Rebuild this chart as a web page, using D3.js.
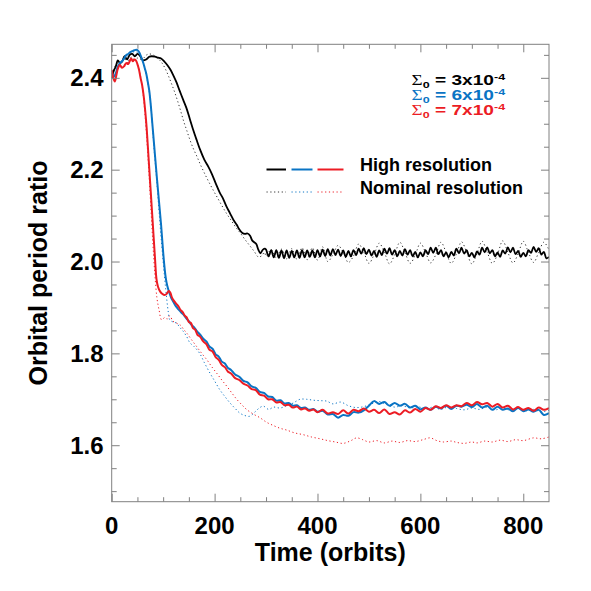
<!DOCTYPE html>
<html>
<head>
<meta charset="utf-8">
<script src="https://cdn.jsdelivr.net/npm/d3@7"></script>
<style>
  body { margin: 0; background: #fff; }
  text { font-family: "Liberation Sans", Arial, Helvetica, sans-serif; font-weight: bold; }
</style>
</head>
<body>
<div id="chart"></div>
<script>
  // tick values
  const xMajor = [0, 200, 400, 600, 800];
  const xMinor = [50, 100, 150, 250, 300, 350, 450, 500, 550, 650, 700, 750];
  const yMajor = [1.6, 1.8, 2.0, 2.2, 2.4];
  const yMinor = [1.5, 1.55, 1.65, 1.7, 1.75, 1.85, 1.9, 1.95, 2.05, 2.1, 2.15, 2.25, 2.3, 2.35, 2.45];

  // Sigma_0 = 3e-4, high resolution
  const blackHi = [
    [0,2.40],[4,2.415],[8,2.425],[12,2.438],[16,2.432],[20,2.435],[25,2.447],[30,2.44],[35,2.45],[40,2.452],
    [45,2.447],[50,2.452],[55,2.448],[61,2.438],[67,2.44],[73,2.446],[78,2.447],[84,2.446],[90,2.444],[96,2.442],
    [102,2.436],[108,2.428],[114,2.418],[120,2.405],[126,2.39],[132,2.372],[139,2.352],[145,2.335],[152,2.31],[158,2.288],
    [165,2.265],[172,2.243],[180,2.222],[188,2.206],[195,2.19],[203,2.168],[210,2.15],[216,2.138],[223,2.12],[230,2.105],
    [237,2.09],[243,2.08],[248,2.07],[254,2.062],[259,2.06],[264,2.061],[269,2.056],[273,2.046],[277,2.042],[281,2.038],
    [285,2.026],[289,2.018],[294,2.026],[298,2.028],
    [300,2.026],[305,2.011],[310,2.025],[315,2.009],[320,2.025],[325,2.008],[330,2.024],[335,2.007],[340,2.024],[345,2.008],
    [350,2.023],[355,2.009],[360,2.024],[365,2.008],[370,2.025],[375,2.009],[380,2.024],[385,2.010],[390,2.024],[395,2.009],
    [400,2.025],[405,2.011],[410,2.026],[415,2.012],[420,2.027],[425,2.013],[430,2.027],[435,2.014],[440,2.026],[445,2.012],
    [450,2.024],[455,2.010],[460,2.023],[465,2.011],[470,2.025],[475,2.014],[480,2.028],[485,2.017],[490,2.029],[495,2.016],
    [500,2.026],[505,2.013],[510,2.023],[515,2.010],[520,2.024],[525,2.014],[530,2.028],[535,2.017],[540,2.029],[545,2.015],
    [550,2.025],[555,2.011],[560,2.023],[565,2.013],[570,2.027],[575,2.015],[580,2.025],[585,2.011],[590,2.021],[595,2.009],
    [600,2.020],[605,2.011],[610,2.025],[615,2.016],[620,2.030],[625,2.019],[630,2.030],[635,2.016],[640,2.025],[645,2.011],
    [650,2.020],[655,2.009],[660,2.021],[665,2.013],[670,2.028],[675,2.018],[680,2.030],[685,2.017],[690,2.025],[695,2.011],
    [700,2.019],[705,2.009],[710,2.022],[715,2.015],[720,2.030],[725,2.020],[730,2.031],[735,2.018],[740,2.025],[745,2.011],
    [750,2.020],[755,2.010],[760,2.024],[765,2.017],[770,2.031],[775,2.020],[780,2.030],[785,2.016],[790,2.023],[795,2.010],
    [800,2.019],[805,2.011],[810,2.025],[815,2.019],[820,2.032],[825,2.021],[830,2.029],[835,2.015],[840,2.021],[845,2.007],
    [850,2.010]
  ];

  // Sigma_0 = 3e-4, nominal resolution
  const blackNom = [
    [0,2.40],[5,2.42],[10,2.432],[15,2.428],[20,2.436],[26,2.44],[32,2.437],[38,2.445],[44,2.44],[50,2.443],
    [56,2.44],[62,2.443],[68,2.45],[74,2.452],[80,2.45],[86,2.446],[92,2.44],[98,2.432],[104,2.42],[110,2.405],
    [116,2.388],[122,2.37],[128,2.35],[134,2.328],[140,2.305],[146,2.285],[152,2.265],[159,2.245],[166,2.228],[172,2.212],
    [180,2.193],[188,2.175],[197,2.156],[205,2.14],[214,2.122],[223,2.105],[232,2.09],[241,2.075],[250,2.062],[259,2.048],
    [268,2.035],[277,2.022],[285,2.01],[291,2.012],[297,2.02],
    [300,2.012],[310,2.026],[320,2.008],[330,2.027],[340,2.006],[350,2.028],[360,2.005],[370,2.03],[380,2.004],[390,2.03],
    [400,2.003],[410,2.032],[420,2.0],[430,2.015],[440,2.035],[450,2.02],[460,1.998],[470,2.012],[480,2.038],[490,2.02],
    [500,1.996],[510,2.015],[520,2.04],[530,2.02],[540,1.995],[550,2.015],[560,2.042],[570,2.02],[580,1.996],[590,2.014],
    [600,2.04],[610,2.02],[620,1.997],[630,2.015],[640,2.042],[650,2.02],[660,1.996],[670,2.016],[680,2.043],[690,2.02],
    [700,1.995],[710,2.017],[720,2.044],[730,2.02],[740,1.996],[750,2.016],[760,2.045],[770,2.02],[780,1.997],[790,2.017],
    [800,2.044],[810,2.02],[820,1.998],[830,2.02],[840,2.042],[850,2.025]
  ];

  // Sigma_0 = 6e-4, high resolution
  const blueHi = [
    [0,2.415],[4,2.402],[8,2.41],[12,2.425],[16,2.432],[20,2.436],[24,2.442],[28,2.449],[32,2.452],[36,2.456],
    [40,2.458],[44,2.46],[48,2.461],[52,2.458],[55,2.452],[58,2.443],[61,2.434],[64,2.422],[67,2.41],[70,2.392],
    [73,2.372],[76,2.34],[79,2.30],[82,2.26],[85,2.22],[88,2.18],[92,2.13],[96,2.08],[99,2.035],[102,1.995],
    [105,1.965],[108,1.947],[112,1.932],[116,1.92],[120,1.912],[124,1.904],[128,1.898],[132,1.893],[136,1.888],[140,1.884],
    [145,1.876],[150,1.87],[155,1.862],[160,1.857],[166,1.848],[172,1.841],[178,1.832],[184,1.826],[190,1.815],[196,1.81],
    [202,1.798],[208,1.793],[214,1.782],[220,1.778],[226,1.768],[232,1.764],[240,1.754],[248,1.749],[256,1.74],[264,1.737],
    [272,1.728],[280,1.725],[288,1.716],[296,1.714],[304,1.706],[312,1.705],[320,1.697],[328,1.698],[336,1.691],[344,1.692],
    [352,1.686],[360,1.687],[368,1.681],[376,1.682],[384,1.677],[392,1.679],[400,1.673],
    [410,1.675],[420,1.667],[430,1.668],[440,1.66],[450,1.666],[460,1.664],[470,1.672],[480,1.671],[490,1.676],[500,1.686],
    [510,1.696],[520,1.69],[530,1.694],[540,1.686],[550,1.692],[560,1.686],[570,1.69],[580,1.682],[590,1.686],[600,1.678],
    [610,1.682],[620,1.677],[630,1.684],[640,1.68],[650,1.686],[660,1.679],[670,1.686],[680,1.684],[690,1.688],[700,1.683],
    [710,1.69],[720,1.682],[730,1.686],[740,1.677],[750,1.684],[760,1.677],[770,1.68],[780,1.674],[790,1.681],[800,1.674],
    [810,1.678],[820,1.673],[830,1.677],[840,1.666],[850,1.67]
  ];

  // Sigma_0 = 6e-4, nominal resolution
  const blueNom = [
    [0,2.41],[6,2.405],[12,2.422],[20,2.434],[28,2.445],[36,2.452],[44,2.457],[50,2.455],[58,2.44],[64,2.42],
    [70,2.39],[76,2.34],[82,2.25],[88,2.17],[94,2.08],[100,2.0],[105,1.94],[110,1.89],[113,1.873],[120,1.868],
    [126,1.866],[132,1.857],[139,1.848],[146,1.836],[152,1.823],[160,1.815],[171,1.80],[180,1.78],[191,1.757],[200,1.74],
    [210,1.721],[220,1.706],[230,1.692],[240,1.68],[249,1.67],[258,1.665],[268,1.663],[278,1.672],[288,1.682],[295,1.685],
    [305,1.678],[315,1.683],[327,1.681],[340,1.686],[353,1.692],[366,1.70],[379,1.70],[392,1.698],[405,1.697],[418,1.696],
    [430,1.69],[445,1.694],[460,1.686],[475,1.682],[490,1.684],[505,1.69],[520,1.695],[535,1.688],[550,1.683],[565,1.686],
    [580,1.681],[595,1.684],[610,1.679],[625,1.683],[640,1.678],[655,1.684],[670,1.68],[685,1.677],[700,1.681],[715,1.678],
    [730,1.683],[745,1.677],[760,1.681],[775,1.676],[790,1.68],[805,1.675],[820,1.678],[835,1.673],[850,1.676]
  ];

  // Sigma_0 = 7e-4, high resolution
  const redHi = [
    [0,2.417],[3,2.40],[6,2.392],[9,2.405],[12,2.42],[16,2.428],[20,2.422],[24,2.425],[28,2.432],[32,2.43],
    [35,2.436],[38,2.442],[41,2.436],[44,2.44],[47,2.438],[50,2.43],[53,2.418],[56,2.40],[59,2.385],[62,2.362],
    [65,2.33],[68,2.29],[72,2.22],[76,2.15],[80,2.08],[84,2.01],[87,1.962],[90,1.945],[94,1.935],[98,1.93],
    [103,1.927],[107,1.93],[111,1.936],[114,1.932],[117,1.922],[120,1.916],[124,1.91],[127,1.906],[130,1.902],[134,1.894],
    [138,1.89],[142,1.882],[146,1.878],[150,1.868],[154,1.866],[158,1.855],[162,1.852],[167,1.84],[172,1.836],[178,1.826],
    [184,1.82],[190,1.808],[196,1.804],[202,1.792],[208,1.786],[214,1.775],[220,1.77],[226,1.76],[232,1.756],[240,1.746],
    [248,1.742],[256,1.734],[264,1.73],[272,1.722],[280,1.72],[288,1.71],[296,1.708],[304,1.70],[312,1.70],[320,1.693],
    [328,1.694],[336,1.687],[344,1.688],[352,1.682],[360,1.684],[368,1.678],[376,1.68],[384,1.675],[392,1.678],[400,1.672],
    [410,1.677],[420,1.669],[430,1.672],[440,1.668],[450,1.676],[460,1.669],[470,1.677],[480,1.674],[490,1.68],[500,1.673],
    [510,1.677],[520,1.67],[530,1.678],[540,1.668],[550,1.672],[560,1.667],[570,1.676],[580,1.671],[590,1.679],[600,1.673],
    [610,1.681],[620,1.677],[630,1.685],[640,1.681],[650,1.687],[660,1.682],[670,1.687],[680,1.685],[690,1.692],[700,1.687],
    [710,1.694],[720,1.689],[730,1.692],[740,1.684],[750,1.69],[760,1.682],[770,1.686],[780,1.678],[790,1.683],[800,1.677],
    [810,1.681],[820,1.675],[830,1.682],[840,1.677],[850,1.681]
  ];

  // Sigma_0 = 7e-4, nominal resolution
  const redNom = [
    [0,2.41],[6,2.395],[12,2.42],[20,2.425],[28,2.43],[36,2.44],[44,2.438],[50,2.43],[55,2.41],[60,2.375],
    [64,2.33],[68,2.27],[72,2.2],[76,2.12],[80,2.04],[84,1.97],[88,1.92],[92,1.895],[97,1.873],[103,1.878],
    [108,1.875],[113,1.882],[119,1.87],[126,1.866],[133,1.862],[140,1.852],[146,1.844],[155,1.83],[165,1.815],[175,1.80],
    [185,1.786],[195,1.77],[204,1.757],[214,1.742],[224,1.728],[234,1.713],[243,1.70],[253,1.688],[262,1.678],[275,1.668],
    [288,1.66],[301,1.65],[314,1.643],[327,1.637],[340,1.633],[355,1.627],[372,1.623],[388,1.618],[405,1.614],[420,1.61],
    [435,1.607],[450,1.604],[465,1.61],[476,1.616],[488,1.612],[500,1.607],[515,1.61],[530,1.605],[545,1.609],[560,1.606],
    [575,1.61],[590,1.608],[605,1.612],[619,1.616],[632,1.61],[645,1.607],[660,1.609],[671,1.606],[685,1.604],[700,1.607],
    [710,1.605],[725,1.609],[740,1.607],[755,1.611],[770,1.608],[785,1.612],[800,1.61],[820,1.616],[835,1.614],[850,1.618]
  ];

  const colBlack = '#000000';
  const colBlue = '#0a74c4';
  const colRed = '#ec1c24';

  const W = 591, H = 591;
  const box = { left: 111.7, right: 549, top: 44.3, bottom: 501.7 };

  const svg = d3.select('#chart').append('svg')
    .attr('width', W).attr('height', H);

  const x = d3.scaleLinear().domain([0, 850]).range([box.left, box.right]);
  const y = d3.scaleLinear().domain([1.477, 2.473]).range([box.bottom, box.top]);

  svg.append('clipPath').attr('id', 'plotclip')
    .append('rect')
    .attr('x', box.left).attr('y', box.top)
    .attr('width', box.right - box.left).attr('height', box.bottom - box.top);

  const line = d3.line().curve(d3.curveCatmullRom.alpha(0.5))
    .x(d => x(d[0])).y(d => y(d[1]));

  const plot = svg.append('g').attr('clip-path', 'url(#plotclip)');

  const series = [
    { data: blackNom, color: '#333', width: 1, dash: '1.2,2.6' },
    { data: blueNom, color: colBlue, width: 1, dash: '1.2,2.6' },
    { data: redNom, color: colRed, width: 1, dash: '1.2,2.6' },
    { data: blackHi, color: colBlack, width: 1.8, dash: null },
    { data: blueHi, color: colBlue, width: 2, dash: null },
    { data: redHi, color: colRed, width: 2, dash: null }
  ];

  plot.selectAll('path.series')
    .data(series)
    .join('path')
    .attr('class', 'series')
    .attr('fill', 'none')
    .attr('stroke', d => d.color)
    .attr('stroke-width', d => d.width)
    .attr('stroke-dasharray', d => d.dash)
    .attr('stroke-linejoin', 'round')
    .attr('d', d => line(d.data));

  // frame + ticks on all four sides, pointing inward
  const axisCol = '#808080';
  svg.append('rect')
    .attr('x', box.left).attr('y', box.top)
    .attr('width', box.right - box.left).attr('height', box.bottom - box.top)
    .attr('fill', 'none').attr('stroke', axisCol).attr('stroke-width', 1);

  const bottomAx = d3.axisBottom(x).tickValues(xMajor).tickSize(-8).tickFormat('');
  const topAx = d3.axisTop(x).tickValues(xMajor).tickSize(-8).tickFormat('');
  const bottomMin = d3.axisBottom(x).tickValues(xMinor).tickSize(-4.5).tickFormat('');
  const topMin = d3.axisTop(x).tickValues(xMinor).tickSize(-4.5).tickFormat('');
  const leftAx = d3.axisLeft(y).tickValues(yMajor).tickSize(-8).tickFormat('');
  const rightAx = d3.axisRight(y).tickValues(yMajor).tickSize(-8).tickFormat('');
  const leftMin = d3.axisLeft(y).tickValues(yMinor).tickSize(-5).tickFormat('');
  const rightMin = d3.axisRight(y).tickValues(yMinor).tickSize(-5).tickFormat('');

  const axes = [
    [bottomAx, `translate(0,${box.bottom})`], [bottomMin, `translate(0,${box.bottom})`],
    [topAx, `translate(0,${box.top})`], [topMin, `translate(0,${box.top})`],
    [leftAx, `translate(${box.left},0)`], [leftMin, `translate(${box.left},0)`],
    [rightAx, `translate(${box.right},0)`], [rightMin, `translate(${box.right},0)`]
  ];
  axes.forEach(([ax, tr]) => {
    const g = svg.append('g').attr('transform', tr).call(ax);
    g.select('.domain').remove();
    g.selectAll('line').attr('stroke', axisCol).attr('stroke-width', 1);
  });

  // tick labels
  svg.append('g').selectAll('text')
    .data(xMajor)
    .join('text')
    .attr('x', d => x(d))
    .attr('y', 534)
    .attr('text-anchor', 'middle')
    .attr('font-size', 24)
    .text(d => d);

  svg.append('g').selectAll('text')
    .data(yMajor)
    .join('text')
    .attr('x', 103.5)
    .attr('y', d => y(d) + 8.5)
    .attr('text-anchor', 'end')
    .attr('font-size', 24)
    .text(d => d.toFixed(1));

  // axis titles
  svg.append('text')
    .attr('x', (box.left + box.right) / 2)
    .attr('y', 561)
    .attr('text-anchor', 'middle')
    .attr('font-size', 25)
    .text('Time (orbits)');

  svg.append('text')
    .attr('transform', `translate(47,${(box.top + box.bottom) / 2}) rotate(-90)`)
    .attr('text-anchor', 'middle')
    .attr('font-size', 25)
    .text('Orbital period ratio');

  // Sigma_0 legend
  const sigmaRows = [
    { mant: '3', color: colBlack, base: 85 },
    { mant: '6', color: colBlue, base: 100 },
    { mant: '7', color: colRed, base: 115 }
  ];
  sigmaRows.forEach(r => {
    const t = svg.append('text')
      .attr('transform', `translate(411.5,${r.base}) scale(1.32,1)`)
      .attr('font-size', 14.5)
      .attr('fill', r.color);
    t.append('tspan').attr('font-family', '"Liberation Serif", serif').attr('font-weight', 'normal').text('Σ');
    t.append('tspan').attr('font-size', 9.5).attr('dy', 3).text('0');
    t.append('tspan').attr('dy', -3).text(` = ${r.mant}x10`);
    t.append('tspan').attr('font-size', 9.5).attr('dy', -5).text('-4');
  });

  // resolution legend
  const legendCols = [colBlack, colBlue, colRed];
  const legendX = [[266.5, 286], [291.5, 312.5], [317.5, 343.5]];
  const legendRows = [
    { label: 'High resolution', y: 169.5, dash: null, width: 2, base: 170.5 },
    { label: 'Nominal resolution', y: 192, dash: '1.2,2.6', width: 1, base: 193.5 }
  ];
  legendRows.forEach(r => {
    legendX.forEach((xs, i) => {
      svg.append('line')
        .attr('x1', xs[0]).attr('x2', xs[1])
        .attr('y1', r.y).attr('y2', r.y)
        .attr('stroke', i === 0 && r.dash ? '#333' : legendCols[i])
        .attr('stroke-width', r.width)
        .attr('stroke-dasharray', r.dash);
    });
    svg.append('text')
      .attr('x', 360)
      .attr('y', r.base)
      .attr('font-size', 18)
      .text(r.label);
  });
</script>
</body>
</html>
